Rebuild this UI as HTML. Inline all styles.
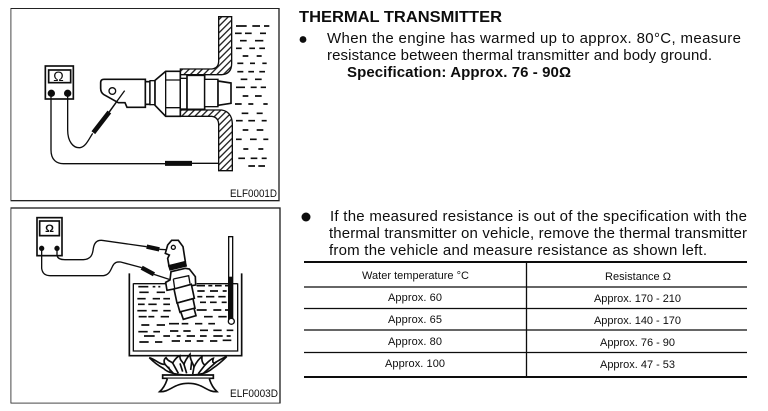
<!DOCTYPE html>
<html><head><meta charset="utf-8"><style>
html,body{margin:0;padding:0;background:#fff;width:768px;height:411px;overflow:hidden}
svg{display:block;font-family:"Liberation Sans",sans-serif;fill:#111}
</style></head><body>
<svg width="768" height="411" viewBox="0 0 768 411" xmlns="http://www.w3.org/2000/svg">
<defs>
<pattern id="h" width="14" height="14" patternUnits="userSpaceOnUse" patternTransform="rotate(45)"><rect width="14" height="14" fill="#fff"/><rect x="0" width="4" height="14" fill="#222"/></pattern>
<filter id="b" x="0" y="0" width="100%" height="100%"><feGaussianBlur stdDeviation="0.3"/></filter>
</defs>
<rect width="768" height="411" fill="#fff"/>
<g filter="url(#b)">
<!-- Diagram 1 -->
<g transform="scale(.33333)" fill="none" stroke="#111" stroke-width="4">
<rect x="32" y="25" width="805" height="577" stroke-width="4" stroke="#222"/>
<rect x="136" y="198" width="84" height="99" stroke-width="5"/>
<rect x="146" y="210" width="66" height="38" stroke-width="5"/>
<circle cx="154" cy="280" r="9" fill="#111"/><circle cx="203" cy="280" r="9" fill="#111"/>
<path d="M203 280V390C203 425 220 445 240 443C258 440 268 415 278 400"/>
<path d="M280 398L328 336" stroke-width="14"/>
<path d="M328 336L372 274" stroke-width="4"/>
<path d="M153 280V450C153 480 170 491 190 491H495"/>
<path d="M495 490H576" stroke-width="15"/>
<path d="M576 490H655"/>
<!-- walls -->
<path d="M656 50H695V190Q695 222 665 224H541V207H635Q655 205 656 185Z" fill="url(#h)"/>
<path d="M656 512H697V370Q695 335 665 330H541V349H635Q655 352 656 372Z" fill="url(#h)"/>
<!-- sensor -->
<path d="M312 238H436V322H381L375 308H355L312 284Q302 278 302 265V248Q302 238 312 238Z" fill="#fff" stroke-width="5"/>
<circle cx="337" cy="273" r="10" stroke-width="4"/>
<path d="M374 272L326 338" stroke-width="4"/>
<rect x="436" y="245" width="14" height="68" fill="#fff" stroke-width="5"/>
<rect x="450" y="242" width="15" height="72" fill="#fff" stroke-width="4"/>
<path d="M465 241L497 214H541V349H497L465 316Z" fill="#fff" stroke-width="5"/>
<path d="M497 214V349M497 240H541M497 323H541"/>
<rect x="541" y="235" width="20" height="92" fill="#fff"/>
<rect x="561" y="226" width="53" height="102" fill="#fff" stroke-width="5"/>
<rect x="614" y="238" width="40" height="82" fill="#fff"/>
<path d="M654 243L693 249V310L654 316Z" fill="#fff" stroke-width="5"/>
</g>
<g transform="scale(.33333)" stroke="#111" stroke-width="5" fill="none">
<path d="M708 78h32M757 78h23M792 78h16M705 100h20M735 100h20M780 100h18M720 122h20M765 122h25M708 145h17M748 145h17M778 145h17M728 168h17M770 168h15M712 190h18M750 190h15M787 190h13M712 215h18M745 215h17M778 215h17M722 238h20M765 238h20M708 262h27M752 262h18M782 262h16M728 288h17M765 288h20M705 312h20M745 312h15M790 312h13M725 340h20M770 340h18M708 362h20M745 362h20M785 362h15M728 390h17M770 390h20M708 418h17M750 418h20M790 418h15M730 447h15M775 447h15M715 475h20M752 475h20M785 475h15M745 498h20M775 498h20"/>
</g>
<text x="58.500" y="81" font-size="14" text-anchor="middle">Ω</text>
<text x="230" y="197" font-size="11" textLength="47" lengthAdjust="spacingAndGlyphs">ELF0001D</text>

<!-- Diagram 2 -->
<g transform="translate(0,205) scale(.33333)" fill="none" stroke="#111" stroke-width="4">
<rect x="32" y="9" width="808" height="586" stroke-width="4" stroke="#222"/>
<rect x="111" y="38" width="75" height="114" stroke-width="5"/>
<rect x="119" y="48" width="59" height="44" stroke-width="5"/>
<circle cx="125" cy="130" r="6" fill="#111"/><circle cx="171" cy="130" r="6" fill="#111"/>
<path d="M171 130V150C172 160 180 164 195 164H250C272 163 278 150 280 130C283 112 292 105 305 106L440 125"/>
<path d="M440 125L478 133" stroke-width="13"/><path d="M478 133L512 135"/>
<path d="M125 130V190C127 205 135 212 150 212H310C328 210 332 195 338 183C344 172 350 170 362 171L425 188"/>
<path d="M425 188L462 208" stroke-width="13"/><path d="M462 208L510 224"/>
<!-- tank -->
<path d="M388 205V452H725V205" stroke-width="5"/>
<path d="M400 235V438H713V235" stroke-width="4"/>
<path d="M400 236H500M590 236H713"/>
<!-- thermometer -->
<rect x="686" y="95" width="12" height="250" fill="#fff" stroke-width="4"/>
<path d="M692 215V345" stroke-width="10"/>
<circle cx="694" cy="349" r="9" fill="#fff" stroke-width="4"/>
<!-- sensor -->
<path d="M503 120L515 106H535L549 125L556 170L507 183L503 160L508 150L496 145Z" fill="#fff" stroke-width="5"/>
<circle cx="520" cy="127" r="6"/>
<path d="M506 182L556 170L559 183L510 195Z" fill="#111"/>
<path d="M513 200L556 190L568 192L586 215L587 240L501 256L497 232L510 225Z" fill="#fff" stroke-width="5"/>
<path d="M520 222L566 212L570 236M520 222L524 250"/>
<path d="M522 252L574 238L583 280L531 294Z" fill="#fff" stroke-width="5"/>
<path d="M532 294L579 281L585 310L540 322Z" fill="#fff" stroke-width="5"/>
<path d="M542 320L582 310L588 332L550 343Z" fill="#fff" stroke-width="5"/>
<!-- burner -->
<path d="M488 510L640 510L640 520L488 520Z" fill="#fff" stroke-width="5"/>
<path d="M502 521C498 535 490 550 479 560C510 562 520 535 565 535C610 535 620 562 651 560C638 548 632 535 628 521" fill="#fff" stroke-width="5"/>
<!-- flame -->
<path d="M448 458C470 465 480 480 495 478C490 470 492 462 498 458C505 470 512 468 518 474C524 464 530 455 540 452C538 465 548 470 552 478C556 465 564 455 570 448C570 465 578 472 582 486C590 470 598 460 606 455C604 470 610 478 615 480C625 470 632 462 640 460C636 472 640 478 650 470C660 464 670 458 680 455C665 470 650 482 638 490C620 505 600 510 565 510C530 510 505 505 490 490C475 482 460 470 448 458Z" fill="#fff" stroke-width="5"/>
<path d="M495 478L520 505M518 474L535 505M505 485L512 500M552 478L560 505M582 486L578 508M615 480L595 506M650 470L610 505M540 475L548 500M575 470L572 495" stroke-width="5"/>
</g>
<g transform="translate(0,205) scale(.33333)" stroke="#111" stroke-width="5" fill="none">
<path d="M415 245h30M458 245h8M475 245h6M418 262h28M470 262h25M412 281h25M458 281h22M490 281h20M414 298h20M445 298h25M490 298h20M412 317h28M455 317h18M490 317h22M416 335h24M445 335h18M482 335h25M424 360h24M470 360h25M507 356h30M545 356h20M585 356h22M625 356h20M415 380h28M460 380h20M510 378h25M550 378h22M600 376h24M640 376h25M680 376h20M432 393h32M490 393h20M530 393h12M560 393h25M600 393h20M640 393h28M680 393h12M418 411h28M465 411h22M515 408h25M555 408h18M590 408h20M630 408h22M668 406h26M590 242h25M625 242h12M645 242h20M675 242h12M592 258h22M630 258h24M668 258h12M592 275h15M618 275h25M655 275h22M600 292h18M630 292h20M665 292h15M590 315h30M640 315h24M675 315h10M612 335h26M655 335h25"/>
</g>
<text x="49.500" y="232" font-size="11" font-weight="bold" text-anchor="middle">Ω</text>
<text x="230" y="397" font-size="11" textLength="48" lengthAdjust="spacingAndGlyphs">ELF0003D</text>

<!-- Text -->
<text x="299" y="22" font-size="16" font-weight="bold" textLength="203" lengthAdjust="spacingAndGlyphs">THERMAL TRANSMITTER</text>
<circle cx="303" cy="39.500" r="3.400"/>
<text x="327" y="43" font-size="15" textLength="414" lengthAdjust="spacing">When the engine has warmed up to approx. 80°C, measure</text>
<text x="327" y="60" font-size="15" textLength="385" lengthAdjust="spacing">resistance between thermal transmitter and body ground.</text>
<text x="347" y="77" font-size="15" font-weight="bold" textLength="224" lengthAdjust="spacing">Specification: Approx. 76 - 90Ω</text>
<circle cx="306" cy="217" r="4.500"/>
<text x="330" y="221" font-size="15" textLength="417" lengthAdjust="spacing">If the measured resistance is out of the specification with the</text>
<text x="329" y="238" font-size="15" textLength="418" lengthAdjust="spacing">thermal transmitter on vehicle, remove the thermal transmitter</text>
<text x="329" y="255" font-size="15" textLength="378" lengthAdjust="spacing">from the vehicle and measure resistance as shown left.</text>

<!-- Table -->
<g stroke="#111" fill="none">
<path d="M304 262H747" stroke-width="2"/>
<path d="M304 287H747M304 308.500H747M304 330H747M304 352.500H747" stroke-width="1.300"/>
<path d="M304 377H747" stroke-width="2"/>
<path d="M526.500 262V376" stroke-width="1.300"/>
</g>
<g font-size="11">
<text x="362" y="279" textLength="107" lengthAdjust="spacing">Water temperature °C</text>
<text x="605" y="280" textLength="66" lengthAdjust="spacing">Resistance Ω</text>
<text x="388" y="301" textLength="54" lengthAdjust="spacing">Approx. 60</text>
<text x="594" y="302" textLength="87" lengthAdjust="spacing">Approx. 170 - 210</text>
<text x="388" y="323" textLength="54" lengthAdjust="spacing">Approx. 65</text>
<text x="594" y="324" textLength="87" lengthAdjust="spacing">Approx. 140 - 170</text>
<text x="388" y="345" textLength="54" lengthAdjust="spacing">Approx. 80</text>
<text x="600" y="346" textLength="75" lengthAdjust="spacing">Approx. 76 - 90</text>
<text x="385" y="367" textLength="60" lengthAdjust="spacing">Approx. 100</text>
<text x="600" y="368" textLength="75" lengthAdjust="spacing">Approx. 47 - 53</text>
</g>
</g>
</svg>
</body></html>
